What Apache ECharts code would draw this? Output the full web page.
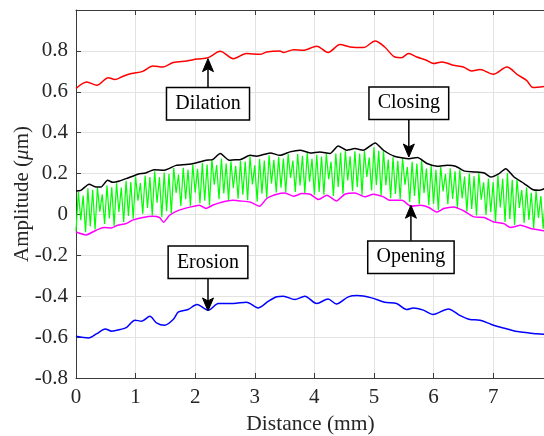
<!DOCTYPE html>
<html><head><meta charset="utf-8">
<script src="https://cdn.jsdelivr.net/npm/echarts@6/dist/echarts.min.js"></script>
<style>html,body{margin:0;padding:0;background:#fff}#c{width:544px;height:436px}</style>
</head><body><div id="c"></div>
<script>
// ---------- data ----------
const xTickLabels = ['0','1','2','3','4','5','6','7'];
const yTickLabels = ['-0.8','-0.6','-0.4','-0.2','0','0.2','0.4','0.6','0.8'];

const dilation = [[0,0.616],[0.18,0.648],[0.35,0.632],[0.54,0.669],[0.65,0.66],[0.79,0.676],[0.93,0.689],[1.12,0.70],[1.29,0.726],[1.46,0.721],[1.63,0.743],[1.86,0.751],[2.03,0.760],[2.22,0.767],[2.42,0.798],[2.64,0.762],[2.86,0.787],[3.09,0.783],[3.20,0.795],[3.42,0.80],[3.48,0.792],[3.65,0.806],[3.81,0.803],[4.04,0.823],[4.23,0.792],[4.43,0.831],[4.60,0.819],[4.82,0.816],[5.02,0.848],[5.18,0.819],[5.35,0.770],[5.46,0.767],[5.58,0.787],[5.72,0.770],[5.88,0.754],[6.0,0.738],[6.14,0.746],[6.33,0.730],[6.50,0.721],[6.64,0.702],[6.78,0.709],[7.0,0.686],[7.23,0.721],[7.42,0.681],[7.56,0.656],[7.67,0.621],[7.87,0.627]];

const closing = [[0,0.115],[0.08,0.118],[0.22,0.148],[0.34,0.134],[0.42,0.134],[0.53,0.167],[0.62,0.157],[0.73,0.164],[0.84,0.175],[1.04,0.197],[1.17,0.203],[1.31,0.219],[1.48,0.216],[1.68,0.24],[1.85,0.244],[2.01,0.252],[2.18,0.265],[2.29,0.268],[2.42,0.298],[2.57,0.265],[2.68,0.268],[2.75,0.268],[2.92,0.289],[3.03,0.285],[3.26,0.301],[3.42,0.289],[3.59,0.306],[3.76,0.314],[3.93,0.301],[4.09,0.306],[4.26,0.298],[4.40,0.335],[4.54,0.314],[4.68,0.322],[4.82,0.314],[5.02,0.350],[5.16,0.314],[5.34,0.285],[5.59,0.273],[5.73,0.278],[5.89,0.249],[6.06,0.236],[6.23,0.241],[6.37,0.236],[6.51,0.213],[6.68,0.208],[6.85,0.203],[6.96,0.183],[7.10,0.200],[7.21,0.224],[7.35,0.183],[7.52,0.151],[7.66,0.122],[7.77,0.118],[7.87,0.127]];

const opening = [[0,-0.086],[0.17,-0.10],[0.34,-0.077],[0.47,-0.064],[0.59,-0.066],[0.70,-0.053],[0.84,-0.045],[0.95,-0.028],[1.12,-0.015],[1.29,-0.009],[1.40,-0.015],[1.47,-0.038],[1.57,-0.004],[1.73,0.021],[1.93,0.037],[2.07,0.045],[2.18,0.029],[2.29,0.045],[2.46,0.061],[2.63,0.069],[2.75,0.066],[2.92,0.061],[3.08,0.040],[3.20,0.078],[3.37,0.099],[3.51,0.105],[3.65,0.089],[3.79,0.102],[3.93,0.099],[4.07,0.073],[4.21,0.094],[4.37,0.066],[4.51,0.099],[4.68,0.105],[4.85,0.086],[4.99,0.099],[5.16,0.086],[5.27,0.069],[5.47,0.069],[5.62,0.040],[5.78,0.045],[5.92,0.034],[6.06,0.012],[6.17,0.029],[6.34,0.037],[6.51,0.017],[6.68,-0.012],[6.85,-0.015],[7.01,-0.037],[7.18,-0.045],[7.29,-0.064],[7.46,-0.053],[7.63,-0.069],[7.80,-0.077],[7.87,-0.081]];

const erosion = [[0,-0.596],[0.21,-0.604],[0.35,-0.583],[0.49,-0.560],[0.60,-0.571],[0.74,-0.563],[0.85,-0.552],[0.99,-0.517],[1.10,-0.522],[1.24,-0.498],[1.35,-0.530],[1.49,-0.542],[1.63,-0.514],[1.72,-0.477],[1.88,-0.465],[2.03,-0.441],[2.22,-0.468],[2.39,-0.436],[2.64,-0.436],[2.86,-0.429],[3.06,-0.457],[3.23,-0.424],[3.37,-0.403],[3.48,-0.400],[3.67,-0.416],[3.84,-0.400],[4.04,-0.436],[4.23,-0.413],[4.37,-0.438],[4.57,-0.403],[4.72,-0.397],[4.96,-0.408],[5.18,-0.429],[5.38,-0.436],[5.55,-0.465],[5.66,-0.457],[5.83,-0.468],[5.99,-0.489],[6.25,-0.462],[6.44,-0.494],[6.61,-0.514],[6.78,-0.517],[6.97,-0.538],[7.17,-0.555],[7.37,-0.571],[7.51,-0.576],[7.73,-0.584],[7.87,-0.586]];

// measured signal, sampled every 0.04 mm (alternating trough / peak)
const signalStep = 0.04;
const signal = [
-0.082,0.110,-0.028,0.092,-0.087,0.128,-0.059,0.121,-0.074,0.131,0.014,0.098,-0.046,0.142,-0.020,0.133,-0.056,0.153,0.012,0.132,
-0.037,0.164,-0.007,0.158,-0.021,0.186,0.067,0.154,0.003,0.190,0.032,0.183,-0.005,0.211,0.057,0.183,-0.013,0.205,0.016,0.198,
0.005,0.227,0.105,0.195,0.042,0.228,0.075,0.219,0.041,0.244,0.106,0.223,0.055,0.251,0.067,0.244,0.044,0.270,0.145,0.242,
0.074,0.274,0.103,0.249,0.070,0.260,0.129,0.238,0.077,0.262,0.097,0.259,0.070,0.283,0.147,0.240,0.064,0.271,0.102,0.264,
0.082,0.289,0.151,0.267,0.108,0.282,0.131,0.273,0.110,0.296,0.179,0.264,0.110,0.296,0.142,0.287,0.105,0.300,0.160,0.272,
0.096,0.292,0.110,0.283,0.096,0.298,0.172,0.258,0.090,0.298,0.134,0.301,0.101,0.311,0.166,0.284,0.115,0.309,0.133,0.298,
0.097,0.310,0.184,0.278,0.117,0.328,0.144,0.311,0.093,0.311,0.143,0.269,0.080,0.279,0.100,0.262,0.074,0.276,0.145,0.232,
0.061,0.258,0.091,0.249,0.050,0.265,0.105,0.225,0.045,0.237,0.053,0.218,0.021,0.233,0.113,0.198,0.050,0.226,0.076,0.211,
0.032,0.220,0.078,0.185,0.015,0.200,0.027,0.187,-0.005,0.202,0.072,0.157,-0.003,0.175,0.011,0.159,-0.035,0.191,0.034,0.174,
-0.037,0.202,-0.023,0.169,-0.051,0.173,0.032,0.119,-0.042,0.131,-0.027,0.106,-0.066,0.114,-0.017,0.090,-0.070,0.115
];

const annotations = [
  {text:'Dilation', x:2.215, y:0.542, tipY:0.762},
  {text:'Closing',  x:5.585, y:0.544, tipY:0.281},
  {text:'Erosion',  x:2.215, y:-0.234, tipY:-0.472},
  {text:'Opening',  x:5.62,  y:-0.209, tipY:0.045}
];

// ---------- chart ----------
const FONT = '"Liberation Serif","Times New Roman",serif';
const chart = echarts.init(document.getElementById('c'), null, {renderer:'canvas'});
const signalData = signal.map((v,i)=>[+(i*signalStep).toFixed(3), v]);
const axisColor = '#3a3a3a';
const gridColor = '#e3e3e3';

function yFmt(v){
  const idx = Math.round((v + 0.8) / 0.2);
  return (idx >= 0 && idx < yTickLabels.length) ? yTickLabels[idx] : '';
}
function xFmt(v){
  const idx = Math.round(v);
  return (Math.abs(v-idx)<1e-6 && idx < xTickLabels.length) ? xTickLabels[idx] : '';
}

const lineSeries = (name, data, color, w, z, smooth) => ({
  name, type:'line', data, showSymbol:false, symbol:'none', smooth: smooth,
  lineStyle:{color, width:w}, z, animation:false, silent:true
});

chart.setOption({
  animation:false,
  backgroundColor:'#fff',
  grid:{left:76, right:-1, top:10, bottom:58, containLabel:false, outerBoundsMode:'none'},
  xAxis:[{
    type:'value', min:0, max:7.87, interval:1, position:'bottom',
    axisLine:{show:true, onZero:false, lineStyle:{color:axisColor, width:1}},
    axisTick:{show:true, inside:true, length:5, lineStyle:{color:axisColor}},
    axisLabel:{formatter:xFmt, fontFamily:FONT, fontSize:21, color:'#262626', margin:9, showMaxLabel:false},
    splitLine:{show:true, lineStyle:{color:gridColor, width:1}},
    name:'Distance (mm)', nameLocation:'middle', nameGap:35, nameMoveOverlap:false,
    nameTextStyle:{fontFamily:FONT, fontSize:21.5, color:'#262626'}
  },{
    type:'value', min:0, max:7.87, interval:1, position:'top',
    axisLine:{show:true, onZero:false, lineStyle:{color:axisColor, width:1}},
    axisTick:{show:true, inside:true, length:5, lineStyle:{color:axisColor}},
    axisLabel:{show:false}, splitLine:{show:false}
  }],
  yAxis:[{
    type:'value', min:-0.8, max:1.0, interval:0.2,
    axisLine:{show:true, onZero:false, lineStyle:{color:axisColor, width:1}},
    axisTick:{show:true, inside:true, length:5, lineStyle:{color:axisColor}},
    axisLabel:{formatter:yFmt, fontFamily:FONT, fontSize:21, color:'#262626', margin:8},
    splitLine:{show:true, lineStyle:{color:gridColor, width:1}},
    name:'Amplitude ({i|μ}m)', nameLocation:'middle', nameGap:43, nameMoveOverlap:false,
    nameTextStyle:{fontFamily:FONT, fontSize:21, color:'#262626',
      rich:{i:{fontFamily:FONT, fontSize:21, fontStyle:'italic', color:'#262626'}}}
  }],
  series:[
    lineSeries('Signal', signalData, '#00ff00', 1.2, 2, false),
    lineSeries('Dilation', dilation, '#ff0000', 1.5, 3, 0.3),
    lineSeries('Closing', closing, '#000000', 1.5, 3, 0.2),
    lineSeries('Opening', opening, '#ff00ff', 1.5, 3, 0.2),
    lineSeries('Erosion', erosion, '#0000ff', 1.5, 3, 0.3)
  ]
});

// ---------- annotations (text boxes with arrows) ----------
const BOX_H = 33, HEAD_L = 13, HEAD_W = 5.5, NOTCH = 3;
const graphics = [];
annotations.forEach(a => {
  const c = chart.convertToPixel({xAxisIndex:0, yAxisIndex:0}, [a.x, a.y]);
  const t = chart.convertToPixel({xAxisIndex:0, yAxisIndex:0}, [a.x, a.tipY]);
  const up = t[1] < c[1];
  const startY = up ? c[1] - BOX_H/2 : c[1] + BOX_H/2;
  const dir = up ? -1 : 1;
  const baseY = t[1] - dir*HEAD_L;
  graphics.push({type:'line', z:50, silent:true,
    shape:{x1:c[0], y1:startY, x2:c[0], y2:baseY + dir*NOTCH},
    style:{stroke:'#000', lineWidth:1.5}});
  graphics.push({type:'polygon', z:50, silent:true,
    shape:{points:[[t[0],t[1]],[t[0]-HEAD_W, baseY],[t[0], baseY + dir*NOTCH],[t[0]+HEAD_W, baseY]]},
    style:{fill:'#000', stroke:'#000', lineWidth:1}});
  graphics.push({type:'text', z:60, silent:true,
    style:{text:a.text, x:c[0], y:c[1], align:'center', verticalAlign:'middle',
      font:'20px ' + FONT, fill:'#000', backgroundColor:'#fff',
      borderColor:'#000', borderWidth:1.5, padding:[6,8,5,8]}});
});
chart.setOption({graphic:graphics});
</script></body></html>
